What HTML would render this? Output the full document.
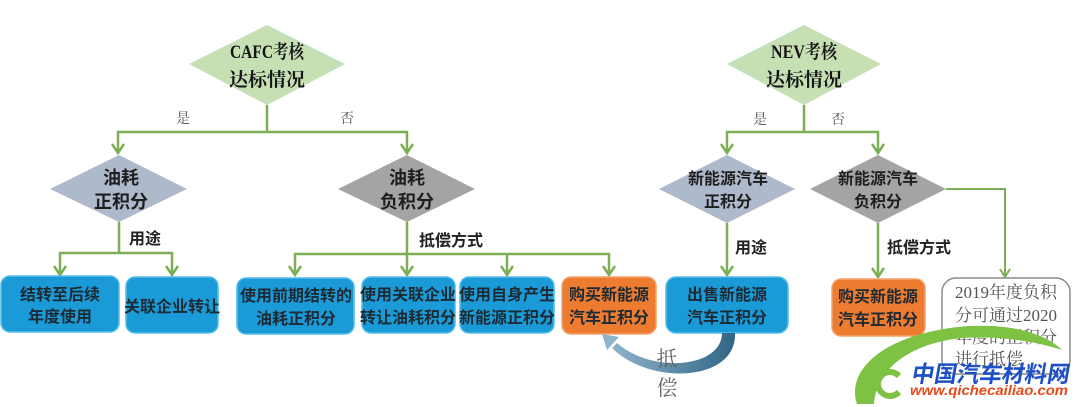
<!DOCTYPE html>
<html>
<head>
<meta charset="utf-8">
<style>
html,body{margin:0;padding:0;background:#fff;}
svg{display:block;}
.bt{font-family:"Liberation Sans","Noto Sans CJK SC",sans-serif;font-weight:bold;font-size:16px;fill:#1d2a33;text-anchor:middle;}
.dt{font-family:"Liberation Sans","Noto Sans CJK SC",sans-serif;font-weight:bold;fill:#1e1e1e;text-anchor:middle;}
.tt{font-family:"Liberation Serif","Noto Serif CJK SC",serif;font-weight:bold;font-size:19px;fill:#151515;text-anchor:middle;}
.yn{font-family:"Liberation Serif","Noto Serif CJK SC",serif;font-size:14px;fill:#555;text-anchor:middle;}
.lb{font-family:"Liberation Sans","Noto Sans CJK SC",sans-serif;font-weight:bold;font-size:16px;fill:#222;}
.gt{font-family:"Liberation Serif","Noto Serif CJK SC",serif;font-size:17px;fill:#555;}
.ln{fill:none;stroke:#7cae55;stroke-width:2.5;}
</style>
</head>
<body>
<svg width="1080" height="407" viewBox="0 0 1080 407" xmlns="http://www.w3.org/2000/svg">
<defs>
<linearGradient id="cg" x1="1" y1="0" x2="0" y2="0">
<stop offset="0" stop-color="#2f6585"/>
<stop offset="1" stop-color="#8fb3cb"/>
</linearGradient>
</defs>

<!-- Top diamonds -->
<polygon points="267,25 345,64 267,105 189,64" fill="#c6e0b4"/>
<text class="tt" x="267" y="58"><tspan textLength="74" lengthAdjust="spacingAndGlyphs">CAFC考核</tspan></text>
<text class="tt" x="267" y="86">达标情况</text>

<polygon points="804,25 881,64 804,105 727,64" fill="#c6e0b4"/>
<text class="tt" x="804" y="58"><tspan textLength="66" lengthAdjust="spacingAndGlyphs">NEV考核</tspan></text>
<text class="tt" x="804" y="86">达标情况</text>

<!-- connectors top -->
<path class="ln" d="M267 105 V132 M118 153 V132 H407 V153"/>
<path class="ln" d="M804 105 V132 M727 153 V132 H878 V153"/>
<polyline class="ln" points="112,144 118,153 124,144"/>
<polyline class="ln" points="401,144 407,153 413,144"/>
<polyline class="ln" points="721,144 727,153 733,144"/>
<polyline class="ln" points="872,144 878,153 884,144"/>
<text class="yn" x="183" y="123">是</text>
<text class="yn" x="347" y="123">否</text>
<text class="yn" x="760" y="124">是</text>
<text class="yn" x="838" y="124">否</text>

<!-- second level diamonds -->
<polygon points="119,155 187,189 119,222 50,189" fill="#aeb9cb"/>
<text class="dt" x="121" y="184" font-size="18">油耗</text>
<text class="dt" x="121" y="208" font-size="18">正积分</text>

<polygon points="407,155 475,189 407,222 338,189" fill="#a4a4a4"/>
<text class="dt" x="407" y="184" font-size="18">油耗</text>
<text class="dt" x="407" y="208" font-size="18">负积分</text>

<polygon points="727,155 795,189 727,223 659,189" fill="#aeb9cb"/>
<text class="dt" x="728" y="184" font-size="16">新能源汽车</text>
<text class="dt" x="728" y="207" font-size="16">正积分</text>

<polygon points="878,155 946,189 878,223 810,189" fill="#a4a4a4"/>
<text class="dt" x="878" y="184" font-size="16">新能源汽车</text>
<text class="dt" x="878" y="207" font-size="16">负积分</text>

<!-- lower connectors -->
<path class="ln" d="M119 222 V253 M60 275 V253 H172 V275"/>
<polyline class="ln" points="54,266 60,275 66,266"/>
<polyline class="ln" points="166,266 172,275 178,266"/>
<text class="lb" x="129" y="244">用途</text>

<path class="ln" d="M407 222 V275 M295 275 V254 H609 V275 M507 254 V275"/>
<polyline class="ln" points="289,266 295,275 301,266"/>
<polyline class="ln" points="401,266 407,275 413,266"/>
<polyline class="ln" points="501,266 507,275 513,266"/>
<polyline class="ln" points="603,266 609,275 615,266"/>
<text class="lb" x="419" y="246">抵偿方式</text>

<path class="ln" d="M727 223 V275"/>
<polyline class="ln" points="721,266 727,275 733,266"/>
<text class="lb" x="735" y="253">用途</text>

<path class="ln" d="M878 223 V277"/>
<polyline class="ln" points="872,268 878,277 884,268"/>
<text class="lb" x="887" y="253">抵偿方式</text>

<path class="ln" d="M946 189 H1005 V277" style="stroke-width:2"/>
<polyline class="ln" points="1000,269 1005,277 1010,269" style="stroke-width:2"/>

<!-- boxes -->
<rect x="1" y="276" width="118" height="56" rx="9" fill="#1a9bd7" stroke="#56bde9" stroke-width="1.5"/>
<text class="bt" x="60" y="300">结转至后续</text>
<text class="bt" x="60" y="322">年度使用</text>

<rect x="126" y="277" width="92" height="56" rx="9" fill="#1a9bd7" stroke="#56bde9" stroke-width="1.5"/>
<text class="bt" x="172" y="312">关联企业转让</text>

<rect x="237" y="278" width="117" height="56" rx="9" fill="#1a9bd7" stroke="#56bde9" stroke-width="1.5"/>
<text class="bt" x="296" y="301">使用前期结转的</text>
<text class="bt" x="296" y="324">油耗正积分</text>

<rect x="362" y="277" width="93" height="56" rx="9" fill="#1a9bd7" stroke="#56bde9" stroke-width="1.5"/>
<text class="bt" x="408" y="300">使用关联企业</text>
<text class="bt" x="408" y="323">转让油耗积分</text>

<rect x="460" y="277" width="94" height="56" rx="9" fill="#1a9bd7" stroke="#56bde9" stroke-width="1.5"/>
<text class="bt" x="507" y="300">使用自身产生</text>
<text class="bt" x="507" y="323">新能源正积分</text>

<rect x="562" y="277" width="94" height="57" rx="9" fill="#ee7c30" stroke="#f4a36c" stroke-width="1.5"/>
<text class="bt" x="609" y="300">购买新能源</text>
<text class="bt" x="609" y="323">汽车正积分</text>

<rect x="666" y="277" width="122" height="56" rx="10" fill="#1a9bd7" stroke="#56bde9" stroke-width="1.5"/>
<text class="bt" x="727" y="300">出售新能源</text>
<text class="bt" x="727" y="323">汽车正积分</text>

<rect x="832" y="279" width="93" height="57" rx="9" fill="#ee7c30" stroke="#f4a36c" stroke-width="1.5"/>
<text class="bt" x="878" y="302">购买新能源</text>
<text class="bt" x="878" y="325">汽车正积分</text>

<rect x="942" y="278" width="128" height="96" rx="14" fill="#fff" stroke="#8c8c8c" stroke-width="1.5"/>
<text class="gt" x="955" y="298">2019年度负积</text>
<text class="gt" x="955" y="321">分可通过2020</text>
<text class="gt" x="955" y="343">年度的正积分</text>
<text class="gt" x="955" y="365">进行抵偿</text>

<!-- curved arrow -->
<path d="M735 333 C737 382, 650 386, 612 348 L617 343 C652 374, 722 368, 722 333 Z" fill="url(#cg)"/>
<polygon points="602,334 619,337 607,350" fill="#8fb3cb"/>
<text x="667" y="366" font-family="Liberation Serif, Noto Serif CJK SC, serif" font-size="21" fill="#666" text-anchor="middle">抵</text>
<text x="667" y="395" font-family="Liberation Serif, Noto Serif CJK SC, serif" font-size="21" fill="#666" text-anchor="middle">偿</text>

<!-- watermark -->
<path d="M857 404 C846 372, 880 336, 958 327 C1008 322, 1045 333, 1062 350 C1035 341, 1000 336, 962 338 C912 343, 876 368, 874 404 Z" fill="#7dc242"/>
<path d="M899 376 A12 12 0 1 0 899 392" fill="none" stroke="#7dc242" stroke-width="6"/>
<text x="911" y="382" font-family="Liberation Sans, Noto Sans CJK SC, sans-serif" font-weight="bold" font-size="23" fill="#1d4fc6" textLength="158" lengthAdjust="spacingAndGlyphs" transform="skewX(-10) translate(67,0)">中国汽车材料网</text>
<text x="910" y="395" font-family="Liberation Sans, sans-serif" font-weight="bold" font-style="italic" font-size="14" fill="#e64a19" textLength="158" lengthAdjust="spacingAndGlyphs">www.qichecailiao.com</text>
</svg>
</body>
</html>
